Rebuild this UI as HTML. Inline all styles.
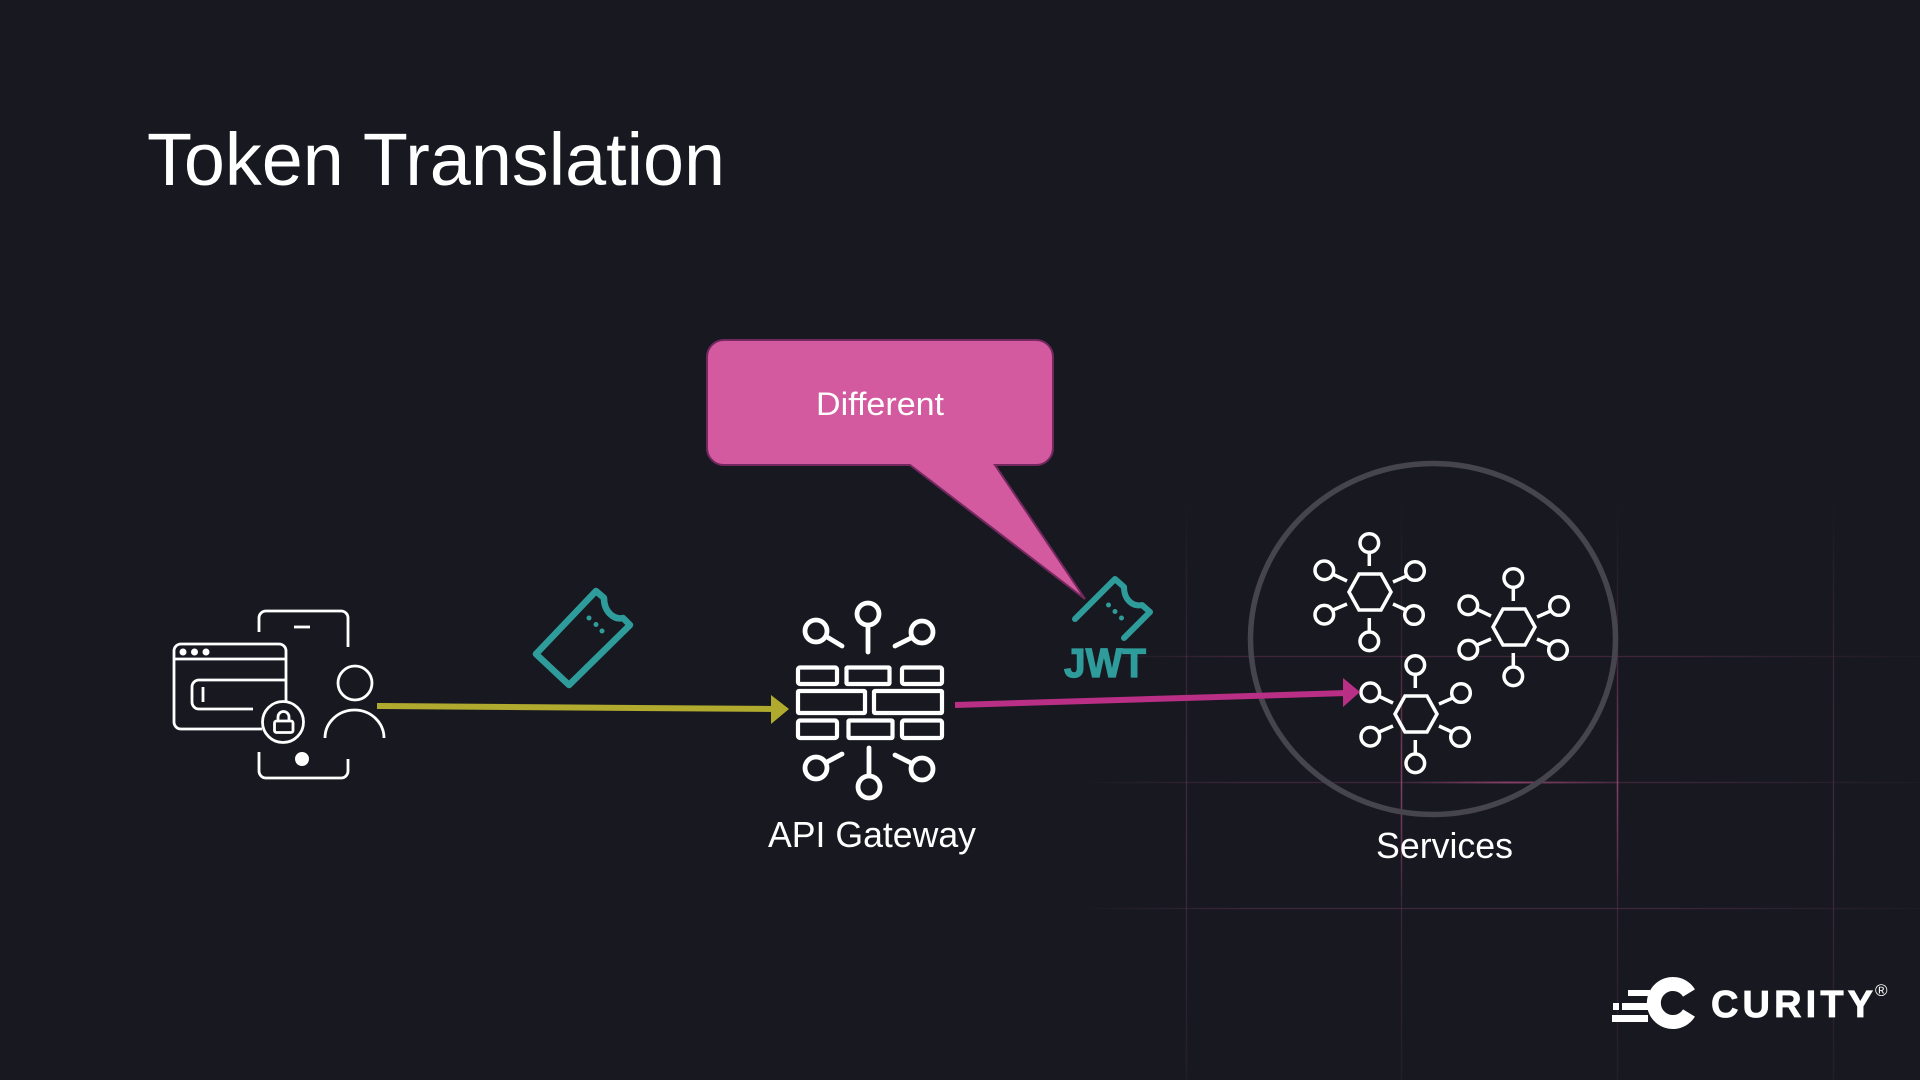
<!DOCTYPE html>
<html lang="en">
<head>
<meta charset="utf-8">
<title>Token Translation</title>
<style>
html,body{margin:0;padding:0;width:1920px;height:1080px;background:#181920;overflow:hidden}
svg{display:block}
text{font-family:"Liberation Sans",sans-serif}
</style>
</head>
<body>
<svg xmlns="http://www.w3.org/2000/svg" width="1920" height="1080" viewBox="0 0 1920 1080">
<defs>
<linearGradient id="gv" x1="0" y1="500" x2="0" y2="1080" gradientUnits="userSpaceOnUse">
<stop offset="0" stop-color="#b04a85" stop-opacity="0"/>
<stop offset=".28" stop-color="#b04a85" stop-opacity=".22"/>
<stop offset=".6" stop-color="#b04a85" stop-opacity=".3"/>
<stop offset="1" stop-color="#b04a85" stop-opacity=".08"/>
</linearGradient>
<linearGradient id="gh" x1="1080" y1="0" x2="1920" y2="0" gradientUnits="userSpaceOnUse">
<stop offset="0" stop-color="#b04a85" stop-opacity="0"/>
<stop offset=".2" stop-color="#b04a85" stop-opacity=".25"/>
<stop offset=".7" stop-color="#b04a85" stop-opacity=".25"/>
<stop offset="1" stop-color="#b04a85" stop-opacity=".03"/>
</linearGradient>
<linearGradient id="gb" x1="1401" y1="0" x2="1617" y2="0" gradientUnits="userSpaceOnUse">
<stop offset="0" stop-color="#c2558f" stop-opacity="0"/>
<stop offset=".5" stop-color="#c2558f" stop-opacity=".55"/>
<stop offset="1" stop-color="#c2558f" stop-opacity=".1"/>
</linearGradient>
<linearGradient id="gb2" x1="0" y1="640" x2="0" y2="900" gradientUnits="userSpaceOnUse">
<stop offset="0" stop-color="#c2558f" stop-opacity="0"/>
<stop offset=".55" stop-color="#c2558f" stop-opacity=".5"/>
<stop offset="1" stop-color="#c2558f" stop-opacity="0"/>
</linearGradient>
<g id="hub" fill="none" stroke="#fff" stroke-width="3.500">
<polygon points="-21,0 -11,-18 11,-18 21,0 11,18 -11,18"/>
<circle cx="-.7" cy="-49" r="9.300"/><circle cx="-45.7" cy="-21.7" r="9.300"/><circle cx="45" cy="-21" r="9.300"/>
<circle cx="-45.7" cy="22.7" r="9.300"/><circle cx="44" cy="23" r="9.300"/><circle cx="-.7" cy="49.3" r="9.300"/>
<path d="M-.7-39V-26M-37-17.7-23-11M23-10 36-15.7M-37 18-23 12M23 12 36 18M-.7 26V40"/>
</g>
</defs>

<!-- background grid -->
<g stroke-width="1.2" fill="none">
<path d="M1186.500 500V1080M1401.500 500V1080M1617.500 500V1080M1833.500 500V1080" stroke="url(#gv)"/>
<path d="M1080 656.500H1920M1080 782.500H1920M1080 908.500H1920" stroke="url(#gh)"/>
<path d="M1401 782.500H1617" stroke="url(#gb)" stroke-width="2"/>
<path d="M1401.500 640V900M1617.500 640V900" stroke="url(#gb2)" stroke-width="1.6"/>
</g>

<text x="147" y="185" font-size="74" fill="#fff" textLength="578" lengthAdjust="spacingAndGlyphs">Token Translation</text>

<!-- client icon -->
<g fill="none" stroke="#fff" stroke-width="2.800">
<path d="M259 632V618a7 7 0 0 1 7-7H341a7 7 0 0 1 7 7V647"/>
<path d="M294 627H310"/>
<path d="M259 752V771a7 7 0 0 0 7 7H341a7 7 0 0 0 7-7V759"/>
<path d="M262 729H181a7 7 0 0 1-7-7V651a7 7 0 0 1 7-7H279a7 7 0 0 1 7 7V701"/>
<path d="M174 659H286"/>
<path d="M286 680H199a7 7 0 0 0-7 7V702a7 7 0 0 0 7 7H253"/>
<path d="M203 687V702"/>
<circle cx="283" cy="722" r="20.500"/>
<rect x="274.500" y="721" width="18.500" height="11.500" rx="2"/>
<path d="M278 721V717a5.500 5.500 0 0 1 11 0V721"/>
<circle cx="355" cy="683" r="17"/>
<path d="M325 738a29.500 28 0 0 1 59 0"/>
</g>
<g fill="#fff">
<circle cx="183" cy="652" r="3.500"/><circle cx="194.500" cy="652" r="3.500"/><circle cx="206" cy="652" r="3.500"/>
<circle cx="302" cy="759" r="7"/>
</g>

<!-- token -->
<g fill="none" stroke="#2f9c9c" stroke-width="6.500" stroke-linejoin="round" stroke-linecap="round">
<path d="M596 591 604 598C604 612 614 620 623 618L630 625 569 685 536 654Z"/>
</g>
<g fill="#2f9c9c"><circle cx="589" cy="618" r="2.500"/><circle cx="596" cy="624.500" r="2.500"/><circle cx="602" cy="631" r="2.500"/></g>

<!-- yellow arrow -->
<path d="M377 706 775 709" stroke="#b0aa2e" stroke-width="6" fill="none"/>
<polygon points="789,709 771,695 771,724" fill="#b0aa2e"/>

<!-- gateway -->
<g fill="none" stroke="#fff" stroke-width="4.200" stroke-linejoin="round">
<rect x="798" y="667.500" width="39" height="16.500" rx="2"/><rect x="846.500" y="667.500" width="43" height="16.500" rx="1"/><rect x="902" y="667.500" width="40" height="16.500" rx="2"/>
<rect x="798" y="691" width="67" height="22" rx="1"/><rect x="874" y="691" width="68" height="22" rx="1"/>
<rect x="798" y="720.500" width="39" height="17.500" rx="2"/><rect x="848.500" y="720.500" width="44" height="17.500" rx="1"/><rect x="902" y="720.500" width="40" height="17.500" rx="2"/>
</g>
<g fill="none" stroke="#fff" stroke-width="4.800" stroke-linecap="round">
<circle cx="868" cy="614" r="11"/><path d="M868 627V652"/>
<circle cx="816" cy="631" r="11"/><path d="M827 637 842 646"/>
<circle cx="922" cy="632" r="11"/><path d="M911 638 895 646"/>
<circle cx="869" cy="787" r="11"/><path d="M869 748V774"/>
<circle cx="816" cy="768" r="11"/><path d="M827 762 842 754"/>
<circle cx="922" cy="769" r="11"/><path d="M911 763 895 755"/>
</g>
<text x="768" y="847" font-size="36" fill="#fff" textLength="208" lengthAdjust="spacingAndGlyphs">API Gateway</text>

<!-- callout -->
<path d="M724 340H1036a17 17 0 0 1 17 17V448a17 17 0 0 1-17 17H995L1085 599 910 465H724a17 17 0 0 1-17-17V357a17 17 0 0 1 17-17Z" fill="#d35a9f" stroke="#74285f" stroke-width="2"/>
<text x="816" y="415" font-size="32" fill="#fff" textLength="128" lengthAdjust="spacingAndGlyphs">Different</text>

<!-- JWT -->
<g fill="none" stroke="#2f9c9c" stroke-width="6" stroke-linejoin="round" stroke-linecap="round">
<path d="M1075 619 1115 579 1124 587C1124 600 1133 607 1142 605L1150 612 1124 638"/>
</g>
<g fill="#2f9c9c"><circle cx="1108.500" cy="605" r="2.500"/><circle cx="1115" cy="611.500" r="2.500"/><circle cx="1121.500" cy="618" r="2.500"/></g>
<text x="1064" y="677" font-size="41" font-weight="700" fill="#2f9c9c" stroke="#2f9c9c" stroke-width="1.200" textLength="82" lengthAdjust="spacingAndGlyphs">JWT</text>

<!-- services -->
<ellipse cx="1433" cy="639" rx="182.500" ry="175.500" fill="none" stroke="#46454e" stroke-width="5.500"/>
<use href="#hub" x="1370" y="592"/>
<use href="#hub" x="1514" y="627"/>
<use href="#hub" x="1416" y="714"/>
<path d="M955 705 1347 693" stroke="#b92f86" stroke-width="6" fill="none"/>
<polygon points="1360,692 1343,678 1343,707" fill="#b92f86"/>
<text x="1376" y="858" font-size="36" fill="#fff" textLength="137" lengthAdjust="spacingAndGlyphs">Services</text>

<!-- logo -->
<g fill="#fff">
<path d="M1689 993A19 19 0 1 0 1689 1013" fill="none" stroke="#fff" stroke-width="14"/>
<rect x="1628" y="990" width="22" height="6"/>
<rect x="1613" y="1003" width="6" height="7"/><rect x="1622" y="1003" width="26" height="7"/>
<rect x="1612" y="1015" width="36" height="7"/>
</g>
<text x="1711" y="1017" font-size="38" font-weight="700" fill="#fff" stroke="#fff" stroke-width=".8" textLength="162" lengthAdjust="spacing">CURITY</text>
<text x="1875" y="996" font-size="17" fill="#fff">®</text>
</svg>
</body>
</html>
